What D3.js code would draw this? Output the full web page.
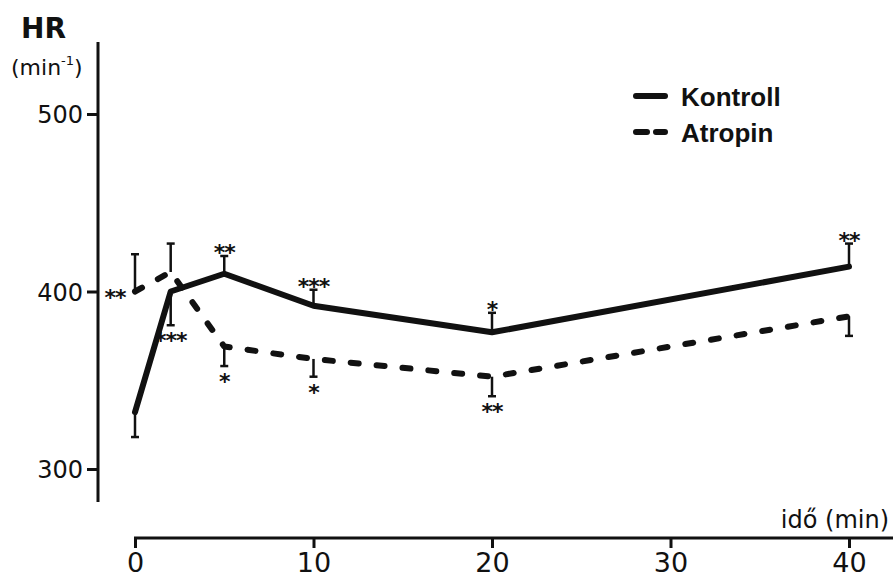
<!DOCTYPE html>
<html>
<head>
<meta charset="utf-8">
<script src="https://cdn.jsdelivr.net/npm/d3@7"></script>
<style>
  body { margin: 0; background: #fff; }
  svg { display: block; }
</style>
</head>
<body>
<svg id="chart" width="895" height="580"></svg>
<script>
// Heart rate (min^-1) over time (min) for the control and atropine groups
const times = [0, 2, 5, 10, 20, 40];

const kontroll = [332, 400, 410, 392, 377, 414];
const kontrollErr = [14, 19, 10, 9, 11, 13];
const kontrollErrDir = [-1, -1, 1, 1, 1, 1];          // +1: bar drawn upward, -1: downward
const kontrollSig = ["", "***", "**", "***", "*", "**"];
const kontrollSigPos = ["end", "end", "end", "end", "end", "end"];

const atropin = [400, 411, 369, 362, 352, 386];
const atropinErr = [21, 16, 11, 10, 11, 11];
const atropinErrDir = [1, 1, -1, -1, -1, -1];
const atropinSig = ["**", "", "*", "*", "**", ""];
const atropinSigPos = ["left", "end", "end", "end", "end", "end"];

const xTicks = [0, 10, 20, 30, 40];
const yTicks = [300, 400, 500];
const seriesNames = ["Kontroll", "Atropin"];

const ink = "#111";
const svg = d3.select("#chart");

const x = d3.scaleLinear().domain([0, 40]).range([135, 849]);
const y = d3.scaleLinear().domain([300, 500]).range([469, 114]);

// ---- y axis ----
const yAxis = d3.axisLeft(y).tickValues(yTicks).tickSize(11).tickPadding(4);
const gy = svg.append("g").attr("transform", "translate(98,0)").call(yAxis);
gy.select(".domain").remove();
gy.selectAll(".tick line").attr("stroke", ink).attr("stroke-width", 3);
gy.selectAll(".tick text")
  .attr("fill", ink)
  .attr("font-family", "DejaVu Sans, sans-serif")
  .attr("font-size", 24)
  .attr("dy", "0.36em");
svg.append("line")
  .attr("x1", 98).attr("x2", 98).attr("y1", 42).attr("y2", 502)
  .attr("stroke", ink).attr("stroke-width", 3);

// ---- x axis ----
const xAxis = d3.axisBottom(x).tickValues(xTicks).tickSize(10).tickPadding(5);
const gx = svg.append("g").attr("transform", "translate(0,538)").call(xAxis);
gx.select(".domain").remove();
gx.selectAll(".tick line").attr("stroke", ink).attr("stroke-width", 3);
gx.selectAll(".tick text")
  .attr("fill", ink)
  .attr("font-family", "DejaVu Sans, sans-serif")
  .attr("font-size", 27)
  .attr("dy", "0.72em");
svg.append("line")
  .attr("x1", 134).attr("x2", 893).attr("y1", 538).attr("y2", 538)
  .attr("stroke", ink).attr("stroke-width", 3);

// ---- axis titles ----
svg.append("text")
  .attr("x", 21).attr("y", 38)
  .attr("font-family", "DejaVu Sans, sans-serif")
  .attr("font-weight", "bold").attr("font-size", 28)
  .attr("fill", ink).text("HR");

const unit = svg.append("text")
  .attr("x", 11).attr("y", 75)
  .attr("font-family", "DejaVu Sans, sans-serif")
  .attr("font-size", 22).attr("fill", ink);
unit.append("tspan").text("(min");
unit.append("tspan").attr("font-size", 13).attr("dy", -10).text("-1");
unit.append("tspan").attr("dy", 10).text(")");

svg.append("text")
  .attr("x", 889).attr("y", 528)
  .attr("text-anchor", "end")
  .attr("font-family", "DejaVu Sans, sans-serif")
  .attr("font-size", 24).attr("fill", ink)
  .text("idő (min)");

// ---- series ----
const series = [
  { name: seriesNames[0], values: kontroll, err: kontrollErr, dir: kontrollErrDir,
    sig: kontrollSig, sigPos: kontrollSigPos, dash: null },
  { name: seriesNames[1], values: atropin, err: atropinErr, dir: atropinErrDir,
    sig: atropinSig, sigPos: atropinSigPos, dash: "8 18" }
];

const line = d3.line().x(d => x(d.t)).y(d => y(d.v));

series.forEach(s => {
  const pts = times.map((t, i) => ({
    t, v: s.values[i], e: s.err[i], dir: s.dir[i], sig: s.sig[i], pos: s.sigPos[i]
  }));

  // error bars with a cap at the far end
  const eb = svg.append("g").attr("class", "errorbars");
  eb.selectAll("line.bar").data(pts).join("line")
    .attr("class", "bar")
    .attr("x1", d => x(d.t)).attr("x2", d => x(d.t))
    .attr("y1", d => y(d.v)).attr("y2", d => y(d.v + d.dir * d.e))
    .attr("stroke", ink).attr("stroke-width", 2.5);
  eb.selectAll("line.cap").data(pts).join("line")
    .attr("class", "cap")
    .attr("x1", d => x(d.t) - 4).attr("x2", d => x(d.t) + 4)
    .attr("y1", d => y(d.v + d.dir * d.e)).attr("y2", d => y(d.v + d.dir * d.e))
    .attr("stroke", ink).attr("stroke-width", 2.5);

  // the curve
  svg.append("path")
    .datum(pts)
    .attr("d", line)
    .attr("fill", "none")
    .attr("stroke", ink)
    .attr("stroke-width", 6)
    .attr("stroke-linejoin", "round")
    .attr("stroke-linecap", "round")
    .attr("stroke-dasharray", s.dash);

  // significance stars
  svg.append("g").selectAll("text").data(pts.filter(d => d.sig)).join("text")
    .attr("x", d => d.pos === "left" ? x(d.t) - 20 : x(d.t))
    .attr("y", d => {
      if (d.pos === "left") return y(d.v);
      const end = y(d.v + d.dir * d.e);
      return d.dir > 0 ? end - 9 : end + 10;
    })
    .attr("dy", 13)
    .attr("text-anchor", "middle")
    .attr("font-family", "DejaVu Sans, sans-serif")
    .attr("font-weight", "bold")
    .attr("font-size", 22)
    .attr("letter-spacing", -1)
    .attr("fill", ink)
    .text(d => d.sig);
});

// ---- legend ----
const legend = svg.append("g").attr("class", "legend");
const legendRows = [
  { name: seriesNames[0], dash: null, y: 96 },
  { name: seriesNames[1], dash: "11 9", y: 132 }
];
legendRows.forEach(r => {
  legend.append("line")
    .attr("x1", 636).attr("x2", 665).attr("y1", r.y).attr("y2", r.y)
    .attr("stroke", ink).attr("stroke-width", 6)
    .attr("stroke-linecap", "round")
    .attr("stroke-dasharray", r.dash);
  legend.append("text")
    .attr("x", 681).attr("y", r.y + 10)
    .attr("font-family", "Liberation Sans, Arial, sans-serif")
    .attr("font-weight", "bold").attr("font-size", 26)
    .attr("fill", ink)
    .text(r.name);
});
</script>
</body>
</html>
